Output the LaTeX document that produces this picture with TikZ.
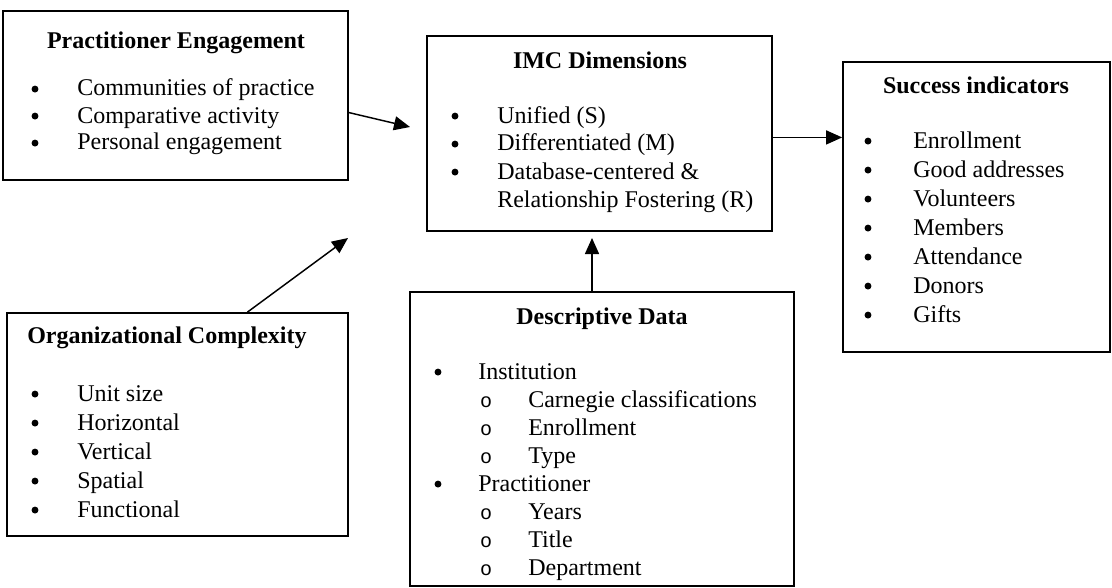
\documentclass[tikz,border=0pt]{standalone}
\usepackage{fontspec}
\setmainfont{Liberation Serif}
\setmonofont{Liberation Mono}
\usetikzlibrary{arrows.meta,fit,calc}
\begin{document}
\begin{tikzpicture}[x=0.75pt,y=-0.75pt,
  box/.style={draw,line width=1.3pt,inner sep=0pt},
  txt/.style={anchor=base west,inner sep=0pt,font=\fontsize{18}{21}\selectfont},
  ttl/.style={anchor=base,inner sep=0pt,font=\fontsize{18}{21}\selectfont\bfseries},
  ttlw/.style={anchor=base west,inner sep=0pt,font=\fontsize{18}{21}\selectfont\bfseries},
  bul/.style={circle,fill,inner sep=0pt,minimum size=5.2pt,yshift=5.2pt},
  sub/.style={anchor=base,inner sep=0pt,font=\fontsize{15}{18}\ttfamily},
  arr/.style={line width=1.1pt,-{Triangle[length=12pt,width=10.5pt]}}]
\useasboundingbox (0,0) rectangle (1112,588);

% Boxes
\node[box,fit={(3,11) (348,180)}] (pe) {};
\node[box,fit={(427,36) (772,231)}] (imc) {};
\node[box,fit={(843,62) (1110,352)}] (su) {};
\node[box,fit={(7,313) (348,536)}] (oc) {};
\node[box,fit={(410,292) (794,586)}] (dd) {};

% Practitioner Engagement
\node[ttl] (pet) at (176,49) {Practitioner Engagement};
\node[bul] (peb1) at (35,96) {};
\node[txt] (pe1) at (77,96) {Communities of practice};
\node[bul] (peb2) at (35,123) {};
\node[txt] (pe2) at (77,123) {Comparative activity};
\node[bul] (peb3) at (35,150) {};
\node[txt] (pe3) at (77,150) {Personal engagement};

% IMC Dimensions
\node[ttl] (imct) at (600,69) {IMC Dimensions};
\node[bul] (imcb1) at (455,123) {};
\node[txt] (imc1) at (497,123) {Unified (S)};
\node[bul] (imcb2) at (455,151) {};
\node[txt] (imc2) at (497,151) {Differentiated (M)};
\node[bul] (imcb3) at (455,179) {};
\node[txt] (imc3) at (497,179) {Database-centered \&};
\node[txt] (imc4) at (497,207) {Relationship Fostering (R)};

% Success indicators
\node[ttl] (sut) at (976,94) {Success indicators};
\node[bul] (sub1) at (868,148) {};
\node[txt] (su1) at (913,148) {Enrollment};
\node[bul] (sub2) at (868,177) {};
\node[txt] (su2) at (913,177) {Good addresses};
\node[bul] (sub3) at (868,206) {};
\node[txt] (su3) at (913,206) {Volunteers};
\node[bul] (sub4) at (868,235) {};
\node[txt] (su4) at (913,235) {Members};
\node[bul] (sub5) at (868,264) {};
\node[txt] (su5) at (913,264) {Attendance};
\node[bul] (sub6) at (868,293) {};
\node[txt] (su6) at (913,293) {Donors};
\node[bul] (sub7) at (868,322) {};
\node[txt] (su7) at (913,322) {Gifts};

% Organizational Complexity
\node[ttlw] (oct) at (27,343) {Organizational Complexity};
\node[bul] (ocb1) at (35,401) {};
\node[txt] (oc1) at (77,401) {Unit size};
\node[bul] (ocb2) at (35,430) {};
\node[txt] (oc2) at (77,430) {Horizontal};
\node[bul] (ocb3) at (35,459) {};
\node[txt] (oc3) at (77,459) {Vertical};
\node[bul] (ocb4) at (35,488) {};
\node[txt] (oc4) at (77,488) {Spatial};
\node[bul] (ocb5) at (35,517) {};
\node[txt] (oc5) at (77,517) {Functional};

% Descriptive Data
\node[ttl] (ddt) at (602,324) {Descriptive Data};
\node[bul] (ddb1) at (438,379) {};
\node[txt] (dd1) at (478,379) {Institution};
\node[sub] (ddc1) at (486,407) {o};
\node[txt] (dd2) at (528,407) {Carnegie classifications};
\node[sub] (ddc2) at (486,435) {o};
\node[txt] (dd3) at (528,435) {Enrollment};
\node[sub] (ddc3) at (486,463) {o};
\node[txt] (dd4) at (528,463) {Type};
\node[bul] (ddb2) at (438,491) {};
\node[txt] (dd5) at (478,491) {Practitioner};
\node[sub] (ddc4) at (486,519) {o};
\node[txt] (dd6) at (528,519) {Years};
\node[sub] (ddc5) at (486,547) {o};
\node[txt] (dd7) at (528,547) {Title};
\node[sub] (ddc6) at (486,575) {o};
\node[txt] (dd8) at (528,575) {Department};

% Arrow end points (free ends)
\coordinate (t1) at (410,127);
\coordinate (t2) at (348,238);
\coordinate (t4) at (592,238);

% Connectors
\draw[arr] ($(pe.north east)!0.6!(pe.south east)$) -- (t1);
\draw[arr] ($(oc.north west)!0.704!(oc.north east)$) -- (t2);
\draw[arr] ($(imc.north east)!0.52!(imc.south east)$) coordinate (s3) -- (su.west |- s3);
\draw[arr] (dd.north -| t4) -- (t4);
\end{tikzpicture}
\end{document}
